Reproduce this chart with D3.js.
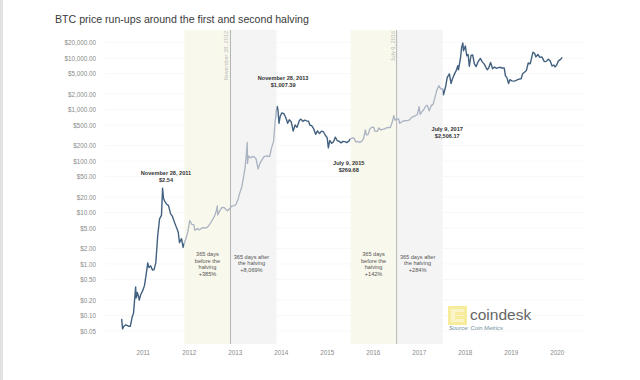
<!DOCTYPE html>
<html>
<head>
<meta charset="utf-8">
<script src="https://cdn.jsdelivr.net/npm/d3@7"></script>
<style>
  body { margin: 0; background: #fff; }
  svg { font-family: "Liberation Sans", Arial, sans-serif; }
</style>
</head>
<body>
<svg id="chart" width="640" height="380"></svg>
<script>
// price (date, USD)
const dates = [
  "2010-07-18","2010-07-25","2010-08-05","2010-08-20","2010-09-10","2010-09-25","2010-10-10","2010-10-20","2010-11-06","2010-11-10","2010-11-20","2010-12-05","2010-12-15","2010-12-31",
  "2011-01-15","2011-02-01","2011-02-10","2011-02-20","2011-03-05","2011-03-20","2011-04-01","2011-04-15","2011-04-30","2011-05-15","2011-05-30","2011-06-08","2011-06-15","2011-06-25","2011-07-10","2011-07-25","2011-08-10","2011-08-25","2011-09-10","2011-09-25","2011-10-10","2011-10-20","2011-11-05","2011-11-18","2011-11-28","2011-12-10","2011-12-25",
  "2012-01-10","2012-01-25","2012-02-10","2012-02-20","2012-03-10","2012-03-25","2012-04-10","2012-04-25","2012-05-10","2012-05-25","2012-06-10","2012-06-25","2012-07-10","2012-07-25","2012-08-10","2012-08-15","2012-08-19","2012-09-05","2012-09-20","2012-10-05","2012-10-20","2012-11-05","2012-11-28","2012-12-10","2012-12-25",
  "2013-01-10","2013-01-25","2013-02-10","2013-02-25","2013-03-10","2013-03-25","2013-04-03","2013-04-10","2013-04-12","2013-04-20","2013-05-05","2013-05-20","2013-06-05","2013-06-20","2013-07-05","2013-07-20","2013-08-05","2013-08-20","2013-09-05","2013-09-20","2013-10-05","2013-10-20","2013-11-05","2013-11-18","2013-11-28","2013-12-04","2013-12-10","2013-12-18","2013-12-28",
  "2014-01-10","2014-01-25","2014-02-10","2014-02-25","2014-03-10","2014-03-25","2014-04-10","2014-04-25","2014-05-10","2014-05-30","2014-06-10","2014-06-25","2014-07-10","2014-07-25","2014-08-10","2014-08-20","2014-09-05","2014-09-20","2014-10-05","2014-10-20","2014-11-05","2014-11-20","2014-12-05","2014-12-20",
  "2015-01-05","2015-01-14","2015-01-25","2015-02-10","2015-02-25","2015-03-10","2015-03-25","2015-04-10","2015-04-25","2015-05-10","2015-05-25","2015-06-10","2015-06-25","2015-07-09","2015-07-20","2015-08-05","2015-08-20","2015-09-05","2015-09-20","2015-10-05","2015-10-20","2015-11-04","2015-11-12","2015-11-25","2015-12-10","2015-12-25",
  "2016-01-10","2016-01-18","2016-02-05","2016-02-20","2016-03-05","2016-03-20","2016-04-05","2016-04-20","2016-05-05","2016-05-20","2016-06-05","2016-06-17","2016-06-25","2016-07-09","2016-07-25","2016-08-03","2016-08-20","2016-09-05","2016-09-20","2016-10-05","2016-10-20","2016-11-05","2016-11-20","2016-12-05","2016-12-20",
  "2017-01-04","2017-01-12","2017-01-25","2017-02-10","2017-02-25","2017-03-10","2017-03-25","2017-04-10","2017-04-25","2017-05-10","2017-05-25","2017-06-10","2017-06-25","2017-07-09","2017-07-16","2017-08-01","2017-08-15","2017-09-01","2017-09-14","2017-09-25","2017-10-10","2017-10-25","2017-11-07","2017-11-12","2017-11-28","2017-12-07","2017-12-17","2017-12-22",
  "2018-01-06","2018-01-17","2018-01-28","2018-02-06","2018-02-20","2018-03-05","2018-03-18","2018-04-01","2018-04-15","2018-05-05","2018-05-20","2018-06-05","2018-06-28","2018-07-10","2018-07-25","2018-08-10","2018-08-25","2018-09-10","2018-09-25","2018-10-10","2018-10-25","2018-11-10","2018-11-20","2018-12-01","2018-12-15","2018-12-25",
  "2019-01-10","2019-01-25","2019-02-10","2019-02-25","2019-03-10","2019-03-25","2019-04-05","2019-04-20","2019-05-05","2019-05-20","2019-06-05","2019-06-26","2019-07-10","2019-07-20","2019-08-05","2019-08-20","2019-09-05","2019-09-25","2019-10-10","2019-10-26","2019-11-10","2019-11-25","2019-12-10","2019-12-18","2019-12-31",
  "2020-01-15","2020-02-01","2020-02-14"
];
const prices = [
  0.086,0.055,0.062,0.066,0.062,0.062,0.095,0.11,0.36,0.22,0.28,0.20,0.25,0.30,
  0.38,0.72,1.05,0.85,0.92,0.76,0.78,1.05,3.5,7.5,8.8,29.6,19,16.5,14.5,13.6,9.5,8.4,6.5,5.2,4.2,2.6,3.1,2.1,2.54,3.1,4.2,
  7.0,5.9,5.8,4.5,4.9,4.6,4.9,5.1,5.0,5.1,5.6,6.4,7.4,8.6,11.3,13.5,9.0,10.9,12.4,12.6,11.7,10.8,12.4,13.4,13.4,
  14.3,17.5,24,31,46,78,135,230,90,126,115,122,120,108,70,90,105,120,125,126,122,180,240,600,1007,1150,980,540,740,
  860,830,700,540,630,580,380,500,450,620,650,590,620,600,590,500,480,420,330,385,340,380,370,320,
  280,180,250,220,240,290,250,240,225,240,238,228,243,270,278,280,235,240,230,240,270,400,320,325,420,455,
  450,380,375,440,400,410,420,440,448,445,580,760,620,650,655,540,580,605,610,612,630,705,730,760,790,
  1130,800,900,1000,1170,1200,940,1200,1260,1750,2400,2900,2500,2506,1930,2700,4200,4900,3200,3900,4800,5700,7100,5900,9900,16000,19500,13800,
  17100,11000,11700,6900,11200,11500,7800,6800,8300,9800,8400,7600,5900,6400,8200,6200,6700,6300,6500,6600,6400,6400,4500,4200,3200,3800,
  3600,3550,3650,3800,3900,3950,4950,5300,5700,8000,7700,12900,12300,10500,11700,10300,10500,8500,8600,9500,8800,7000,7300,6700,7200,
  8800,9400,10300
];

const yTicks = [0.05,0.1,0.2,0.5,1,2,5,10,20,50,100,200,500,1000,2000,5000,10000,20000];
const years = ["2011","2012","2013","2014","2015","2016","2017","2018","2019","2020"];

const halvings = ["2012-11-28","2016-07-09"];
const halvingLabels = ["November 28, 2012","July 9, 2016"];
const bandBefore = [["2011-11-28","2012-11-28"],["2015-07-09","2016-07-09"]];
const bandAfter = [["2012-11-28","2013-11-28"],["2016-07-09","2017-07-09"]];
const beforeText = [["365 days","before the","halving","+385%"],["365 days","before the","halving","+142%"]];
const afterText = [["365 days after","the halving","+8,069%"],["365 days after","the halving","+284%"]];

const notes = [
  {date: "2011-06-25", px: 166, lines: ["November 28, 2011","$2.54"], top: 173},
  {date: "2014-01-20", lines: ["November 28, 2013","$1,007.39"], top: 78},
  {date: "2015-06-25", lines: ["July 9, 2015","$269.68"], top: 163},
  {date: "2017-08-15", lines: ["July 9, 2017","$2,506.17"], top: 129}
];

const parse = d3.timeParse("%Y-%m-%d");
const data = dates.map((d, i) => ({date: parse(d), price: prices[i]}));

const svg = d3.select("#chart");

const x = d3.scaleTime()
  .domain([parse("2011-01-01"), parse("2020-01-01")])
  .range([142.7, 556.7]);
const y = d3.scaleLog()
  .domain([0.05, 20000])
  .range([331, 42.5]);

const plotTop = 30, plotBottom = 344;

// left frame strip of the screenshot
svg.append("rect").attr("x", 0).attr("y", 0).attr("width", 3).attr("height", 380).attr("fill", "#e2e2e2");

// title
svg.append("text")
  .attr("x", 55).attr("y", 23)
  .attr("font-size", 10.6)
  .attr("fill", "#3a3a3a")
  .text("BTC price run-ups around the first and second halving");

// faint gridlines
svg.append("g")
  .selectAll("line")
  .data(yTicks)
  .join("line")
  .attr("x1", 105).attr("x2", 585)
  .attr("y1", d => y(d)).attr("y2", d => y(d))
  .attr("stroke", "#f8f8f8");

// bands
bandBefore.forEach(b => {
  svg.append("rect")
    .attr("x", x(parse(b[0]))).attr("y", plotTop)
    .attr("width", x(parse(b[1])) - x(parse(b[0]))).attr("height", plotBottom - plotTop)
    .attr("fill", "#f9f8ec");
});
bandAfter.forEach(b => {
  svg.append("rect")
    .attr("x", x(parse(b[0]))).attr("y", plotTop)
    .attr("width", x(parse(b[1])) - x(parse(b[0]))).attr("height", plotBottom - plotTop)
    .attr("fill", "#f4f4f4");
});

// halving lines + rotated labels
halvings.forEach((h, i) => {
  const hx = x(parse(h));
  svg.append("line")
    .attr("x1", hx).attr("x2", hx).attr("y1", plotTop).attr("y2", plotBottom)
    .attr("stroke", "#b5b5b5").attr("stroke-width", 1);
  svg.append("text")
    .attr("transform", `translate(${hx - 2},${plotTop + 1}) rotate(-90)`)
    .attr("text-anchor", "end")
    .attr("font-size", 5.6)
    .attr("fill", "#b8b8b8")
    .text(halvingLabels[i]);
});

// band texts
bandBefore.forEach((b, i) => {
  const cx = (x(parse(b[0])) + x(parse(b[1]))) / 2;
  svg.append("text")
    .attr("text-anchor", "middle").attr("font-size", 5.6).attr("fill", "#555")
    .selectAll("tspan").data(beforeText[i]).join("tspan")
    .attr("x", cx).attr("y", (d, j) => 256 + j * 6.6)
    .text(d => d);
});
bandAfter.forEach((b, i) => {
  const cx = (x(parse(b[0])) + x(parse(b[1]))) / 2 - 2;
  svg.append("text")
    .attr("text-anchor", "middle").attr("font-size", 5.6).attr("fill", "#555")
    .selectAll("tspan").data(afterText[i]).join("tspan")
    .attr("x", cx).attr("y", (d, j) => 258.5 + j * 6.6)
    .text(d => d);
});

// y axis
const yAxis = svg.append("g")
  .attr("transform", "translate(96,0)")
  .call(d3.axisLeft(y).tickValues(yTicks).tickSize(0).tickPadding(0)
    .tickFormat(d => "$" + d3.format(",.2f")(d)));
yAxis.select(".domain").remove();
yAxis.selectAll("text").attr("font-size", 6.3).attr("fill", "#8a8a8a")
  .attr("font-family", "Liberation Sans, Arial, sans-serif");

// x axis
const xAxis = svg.append("g")
  .attr("transform", "translate(0,348)")
  .call(d3.axisBottom(x).tickValues(years.map(d => parse(d + "-01-01"))).tickSize(0)
    .tickFormat(d3.timeFormat("%Y")));
xAxis.select(".domain").remove();
xAxis.selectAll("text").attr("font-size", 6.3).attr("fill", "#8a8a8a")
  .attr("font-family", "Liberation Sans, Arial, sans-serif");

// clip paths: dark line outside bands, light line inside
const defs = svg.append("defs");
const b1 = x(parse(bandBefore[0][0])), e1 = x(parse(bandAfter[0][1]));
const b2 = x(parse(bandBefore[1][0])), e2 = x(parse(bandAfter[1][1]));
const outside = defs.append("clipPath").attr("id", "outside");
[[0, b1], [e1, b2], [e2, 640]].forEach(r => {
  outside.append("rect").attr("x", r[0]).attr("y", 0).attr("width", r[1] - r[0]).attr("height", 380);
});
const inside = defs.append("clipPath").attr("id", "inside");
[[b1, e1], [b2, e2]].forEach(r => {
  inside.append("rect").attr("x", r[0]).attr("y", 0).attr("width", r[1] - r[0]).attr("height", 380);
});

const line = d3.line()
  .x(d => x(d.date))
  .y(d => y(d.price));

svg.append("path")
  .datum(data)
  .attr("d", line)
  .attr("fill", "none")
  .attr("stroke", "#42607f")
  .attr("stroke-width", 1.4)
  .attr("stroke-linejoin", "round")
  .attr("clip-path", "url(#outside)");

svg.append("path")
  .datum(data)
  .attr("d", line)
  .attr("fill", "none")
  .attr("stroke", "#a9b3c1")
  .attr("stroke-width", 1.3)
  .attr("stroke-linejoin", "round")
  .attr("clip-path", "url(#inside)");

// annotations
notes.forEach(n => {
  const nx = n.px || x(parse(n.date));
  svg.append("text")
    .attr("text-anchor", "middle").attr("font-size", 5.6)
    .attr("font-weight", "bold").attr("fill", "#333")
    .selectAll("tspan").data(n.lines).join("tspan")
    .attr("x", nx).attr("y", (d, j) => n.top + 2 + j * 6.8)
    .text(d => d);
});

// coindesk logo
const logo = svg.append("g").attr("transform", "translate(448,306)");
logo.append("rect").attr("width", 19).attr("height", 19).attr("fill", "#f7ec9c");
logo.append("rect").attr("x", 3).attr("y", 3).attr("width", 13).attr("height", 13).attr("fill", "#fbf4c8");
logo.append("rect").attr("x", 7).attr("y", 6).attr("width", 9).attr("height", 3).attr("fill", "#f7ec9c");
logo.append("rect").attr("x", 7).attr("y", 10).attr("width", 9).attr("height", 3).attr("fill", "#f7ec9c");
svg.append("text")
  .attr("x", 470).attr("y", 320)
  .attr("font-size", 15.5).attr("fill", "#666")
  .text("coindesk");
svg.append("text")
  .attr("x", 449).attr("y", 330)
  .attr("font-size", 5.8).attr("font-style", "italic").attr("fill", "#6f8e9c")
  .text("Source: Coin Metrics");
</script>
</body>
</html>
